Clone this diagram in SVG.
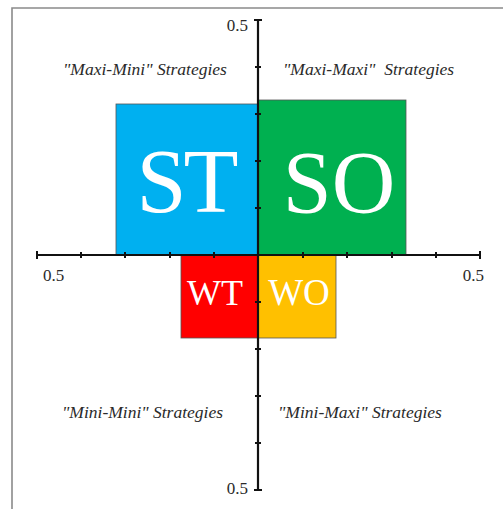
<svg xmlns="http://www.w3.org/2000/svg" width="503" height="509" viewBox="0 0 503 509">
<style>
.lbl{font-family:"Liberation Serif","Times New Roman",serif;font-style:italic;font-size:17.5px;fill:#2a2a2a}
.num{font-family:"Liberation Serif","Times New Roman",serif;font-size:17px;fill:#2a2a2a}
.big{font-family:"Liberation Serif","Times New Roman",serif;fill:#fff;text-anchor:middle}
.box{stroke:#555;stroke-width:0.8}
.ax{stroke:#111;stroke-width:2.2;fill:none}
.tk{stroke:#111;stroke-width:2;fill:none}
</style>
<rect width="503" height="509" fill="#fff"/>
<path d="M12,509 V8 H503" fill="none" stroke="#8a8a8a" stroke-width="1.6"/>
<g id="ST"><rect class="box" x="116" y="104" width="142" height="151" fill="#00B0F0"/><text class="big" x="186" y="212" font-size="90" letter-spacing="-3">ST</text></g>
<g id="SO"><rect class="box" x="258" y="100" width="148" height="155" fill="#00B050"/><text class="big" x="339" y="212" font-size="88">SO</text></g>
<g id="WT"><rect class="box" x="181" y="255" width="77" height="83" fill="#FF0000"/><text class="big" x="215" y="305" font-size="36">WT</text></g>
<g id="WO"><rect class="box" x="258" y="255" width="78" height="83" fill="#FFC000"/><text class="big" x="299" y="305" font-size="37" fill="#FFFBE6">WO</text></g>
<g id="axes">
<line class="ax" x1="258" y1="20" x2="258" y2="490"/>
<line class="ax" x1="37" y1="255" x2="480" y2="255"/>
<path class="tk" d="M254,20H262M254,490H262M37,251V259M480,251V259"/>
<path class="tk" d="M255,67H261M255,114H261M255,161H261M255,208H261M255,302H261M255,349H261M255,396H261M255,443H261"/>
<path class="tk" d="M81,252V258M125,252V258M170,252V258M214,252V258M303,252V258M347,252V258M392,252V258M436,252V258"/>
</g>
<g id="labels">
<text class="num" x="248" y="31" text-anchor="end">0.5</text>
<text class="num" x="248" y="494" text-anchor="end">0.5</text>
<text class="num" x="43" y="281">0.5</text>
<text class="num" x="484" y="281" text-anchor="end">0.5</text>
<text class="lbl" x="63" y="75">"Maxi-Mini" Strategies</text>
<text class="lbl" x="283" y="75" xml:space="preserve">"Maxi-Maxi"  Strategies</text>
<text class="lbl" x="62" y="418">"Mini-Mini" Strategies</text>
<text class="lbl" x="278" y="418">"Mini-Maxi" Strategies</text>
</g>
</svg>
